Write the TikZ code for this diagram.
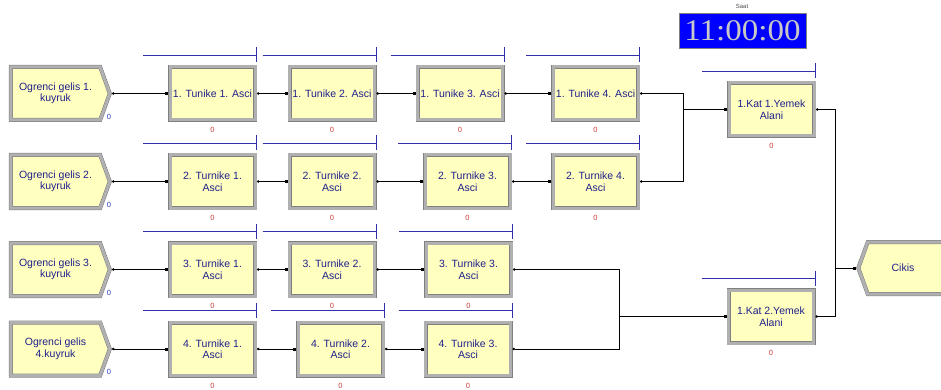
\documentclass[tikz,border=0pt]{standalone}
\usepackage{fontspec}
\setmainfont{Liberation Sans}
\newfontfamily\clockfont{Liberation Serif}
\usetikzlibrary{shapes.symbols,arrows.meta}

\definecolor{modfill}{RGB}{255,255,192}
\definecolor{modedge}{RGB}{128,128,128}
\definecolor{modband}{RGB}{176,176,176}
\definecolor{modtext}{RGB}{32,32,140}
\definecolor{queueblue}{RGB}{48,48,170}
\definecolor{zerored}{RGB}{200,60,60}
\definecolor{zeroblue}{RGB}{40,60,200}
\definecolor{clockgray}{RGB}{200,200,200}

\begin{document}
\begin{tikzpicture} [x=1pt,y=-1pt,
  modul/.style= {draw=modedge,double=modband,double distance=3pt,line width=0.5pt,outer sep=2pt,fill=modfill,minimum width=85pt,minimum height=53pt,inner sep=1pt,align=center,text=modtext,font=\fontsize{10.5}{11.5}\selectfont},
  gelis/.style= {modul,shape=signal,signal to=east,signal pointer angle=140,minimum width=99pt},
  cikis/.style= {modul,shape=signal,signal to=west,signal pointer angle=140,minimum width=96pt,minimum height=52pt},
  queue/.style= {draw=queueblue,line width=0.9pt,-{Bar[width=15pt,line width=0.9pt]}},
  baglanti/.style= {line width=0.7pt,{Circle[length=2.5pt]}-{Square[length=3pt,width=3pt]}},
  rzero/.style= {text=zerored,font=\fontsize{7.5}{7.5}\selectfont,inner sep=0pt},
  bzero/.style= {text=zeroblue,font=\fontsize{7.5}{7.5}\selectfont,inner sep=0pt}]
\clip (0,0) rectangle (941,390);

\foreach \n/\y/\t in {c1/93.5/{Ogrenci gelis 1.\\kuyruk}, c2/181.5/{Ogrenci gelis 2.\\kuyruk}, c3/269.5/{Ogrenci gelis 3.\\kuyruk}, c4/349/{Ogrenci gelis\\4.kuyruk}}{%
  \node[gelis] (\n) at (55.5,\y) {\t};
  \node[bzero] (z\n) at ([xshift=-3pt,yshift=-23pt]\n.east) {0};}

\foreach \n/\x/\y/\t in {t11/212.5/93.5/{1. Tunike 1. Asci}, t12/332/93.5/{1. Tunike 2. Asci}, t13/460/93.5/{1. Tunike 3. Asci}, t14/595.5/93.5/{1. Tunike 4. Asci},
  t21/212.5/181.5/{2. Turnike 1.\\Asci}, t22/332/181.5/{2. Turnike 2.\\Asci}, t23/467.5/181.5/{2. Turnike 3.\\Asci}, t24/595.5/181.5/{2. Turnike 4.\\Asci},
  t31/212.5/269.5/{3. Turnike 1.\\Asci}, t32/332/269.5/{3. Turnike 2.\\Asci}, t33/468.5/269.5/{3. Turnike 3.\\Asci},
  t41/212.5/349/{4. Turnike 1.\\Asci}, t42/340.5/349/{4. Turnike 2.\\Asci}, t43/468/349/{4. Turnike 3.\\Asci},
  y1/771.5/109.5/{1.Kat 1.Yemek\\Alani}, y2/771/316.5/{1.Kat 2.Yemek\\Alani}}{%
  \node[modul] (\n) at (\x,\y) {\t};
  \node[rzero] (z\n) at ([yshift=-8pt]\n.south) {0};
  \draw[queue] ([xshift=-25pt,yshift=10pt]\n.north west) -- ([yshift=10pt]\n.north east);}

\node[cikis] (cikis) at (911,268) {\hspace*{-16pt}Cikis};

% saat
\node[draw=gray,fill=blue,minimum width=127pt,minimum height=35pt,inner sep=0pt,text=clockgray,font=\clockfont\fontsize{30}{30}\selectfont] (saat) at (742.5,30.5) {\scalebox{1.1}[1]{11:00:00}};
\node[font=\fontsize{6}{6}\selectfont,text=black!70] (saatyazi) at (742,6) {Saat};

\foreach \a/\b in {c1/t11,t11/t12,t12/t13,t13/t14,c2/t21,t21/t22,t22/t23,t23/t24,c3/t31,t31/t32,t32/t33,c4/t41,t41/t42,t42/t43}
  \draw[baglanti] (\a.east) -- (\b.west);

\coordinate (k1) at (683,0);
\coordinate (k2) at (619,0);
\coordinate (k3) at (835,0);
\draw[baglanti] (t14.east) -- (t14.east -| k1) |- (y1.west);
\draw[baglanti] (t24.east) -- (t24.east -| k1) |- (y1.west);
\draw[baglanti] (t33.east) -- (t33.east -| k2) |- (y2.west);
\draw[baglanti] (t43.east) -- (t43.east -| k2) |- (y2.west);
\draw[baglanti] (y1.east) -- (y1.east -| k3) |- (cikis.west);
\draw[baglanti] (y2.east) -- (y2.east -| k3) |- (cikis.west);
\end{tikzpicture}
\end{document}
